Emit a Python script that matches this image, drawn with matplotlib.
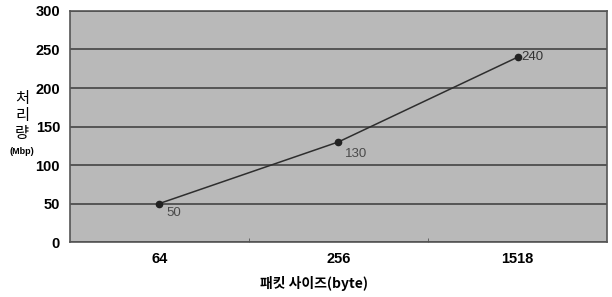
import matplotlib
matplotlib.use("Agg")
import matplotlib.pyplot as plt
import numpy as np

plt.rcParams['font.family'] = ['Liberation Sans', 'Noto Sans CJK KR', 'DejaVu Sans']

packet_sizes = ["64", "256", "1518"]
throughput = [50, 130, 240]
y_ticks = [0, 50, 100, 150, 200, 250, 300]

_BG_PLOT = "#b9b9b9"
_GRID = "#3a3a3a"
_LINE = "#2e2e2e"
_LABEL = "#4a4a4a"

fig = plt.figure(figsize=(6.12, 2.97), dpi=100, facecolor="white")
ax = fig.add_axes([0.114, 0.185, 0.878, 0.778])
ax.set_facecolor(_BG_PLOT)

x = np.arange(len(packet_sizes))
ax.plot(x, throughput, color=_LINE, linewidth=1.1, marker="o",
        markersize=4.5, markerfacecolor="#222222", markeredgecolor="#222222",
        zorder=3)

# value labels
offsets = [(5, -7), (5, -9), (3, 0)]
for xi, v, (dx, dy) in zip(x, throughput, offsets):
    ax.annotate(str(v), (xi, v), xytext=(dx, dy), textcoords="offset points",
                ha="left", va="center", fontsize=9.5,
                color=_LABEL if dy else "#333333")

ax.set_xlim(-0.5, len(packet_sizes) - 0.5)
ax.set_ylim(0, 300)
ax.set_yticks(y_ticks)
ax.set_yticklabels([str(t) for t in y_ticks], fontsize=10.5, fontweight="bold")
ax.set_xticks(x)
ax.set_xticklabels(packet_sizes, fontsize=10.5, fontweight="bold")
ax.tick_params(axis="both", length=0, pad=7)
ax.set_xticks(x[:-1] + 0.5, minor=True)
ax.tick_params(axis="x", which="minor", direction="in", length=3,
               color="#555555")

ax.grid(axis="y", color=_GRID, linewidth=1.1, zorder=1)
ax.set_axisbelow(True)
for side, spine in ax.spines.items():
    spine.set_color("#555555")
    spine.set_linewidth(1.2)

# y label: stacked Korean characters + unit
fig.text(0.036, 0.522, "처\n리\n량", ha="center", va="bottom",
         fontsize=11, linespacing=1.05,
         family=["Noto Sans CJK KR", "DejaVu Sans"])
fig.text(0.036, 0.505, "(Mbp)", ha="center", va="top",
         fontsize=6.5, fontweight="bold")

fig.text(0.425, 0.045, "패킷 사이즈(byte)", ha="left", va="center",
         fontsize=10, fontweight="bold",
         family=["Noto Sans CJK KR", "DejaVu Sans"])

fig.savefig("out.png", dpi=100, facecolor="white")
